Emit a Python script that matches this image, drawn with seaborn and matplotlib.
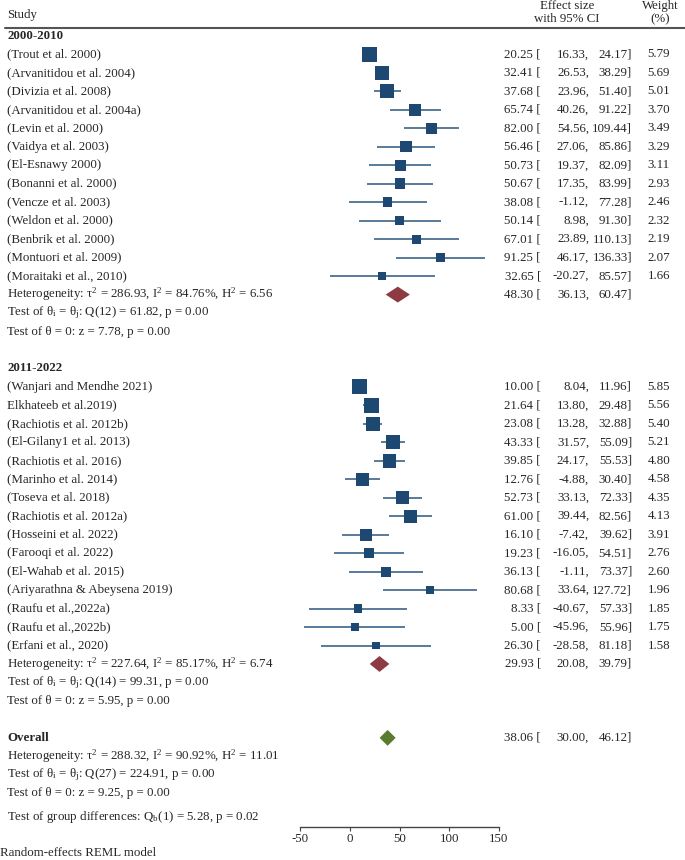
import numpy as np
import pandas as pd
import seaborn as sns
import matplotlib.pyplot as plt
from matplotlib.transforms import blended_transform_factory

# Data
studies1 = ['(Trout et al. 2000)', '(Arvanitidou et al. 2004)', '(Divizia et al. 2008)',
            '(Arvanitidou et al. 2004a)', '(Levin et al. 2000)', '(Vaidya et al. 2003)',
            '(El-Esnawy 2000)', '(Bonanni et al. 2000)', '(Vencze et al. 2003)',
            '(Weldon et al. 2000)', '(Benbrik et al. 2000)', '(Montuori et al. 2009)',
            '(Moraitaki et al., 2010)']
est1 = [20.25, 32.41, 37.68, 65.74, 82.00, 56.46, 50.73, 50.67, 38.08, 50.14, 67.01, 91.25, 32.65]
lo1 = [16.33, 26.53, 23.96, 40.26, 54.56, 27.06, 19.37, 17.35, -1.12, 8.98, 23.89, 46.17, -20.27]
hi1 = [24.17, 38.29, 51.40, 91.22, 109.44, 85.86, 82.09, 83.99, 77.28, 91.30, 110.13, 136.33, 85.57]
w1 = [5.79, 5.69, 5.01, 3.70, 3.49, 3.29, 3.11, 2.93, 2.46, 2.32, 2.19, 2.07, 1.66]

studies2 = ['(Wanjari and Mendhe 2021)', 'Elkhateeb et al.2019)', '(Rachiotis et al. 2012b)',
            '(El-Gilany1 et al. 2013)', '(Rachiotis et al. 2016)', '(Marinho et al. 2014)',
            '(Toseva et al. 2018)', '(Rachiotis et al. 2012a)', '(Hosseini et al. 2022)',
            '(Farooqi et al. 2022)', '(El-Wahab et al. 2015)', '(Ariyarathna & Abeysena 2019)',
            '(Raufu et al.,2022a)', '(Raufu et al.,2022b)', '(Erfani et al., 2020)']
est2 = [10.00, 21.64, 23.08, 43.33, 39.85, 12.76, 52.73, 61.00, 16.10, 19.23, 36.13, 80.68, 8.33, 5.00, 26.30]
lo2 = [8.04, 13.80, 13.28, 31.57, 24.17, -4.88, 33.13, 39.44, -7.42, -16.05, -1.11, 33.64, -40.67, -45.96, -28.58]
hi2 = [11.96, 29.48, 32.88, 55.09, 55.53, 30.40, 72.33, 82.56, 39.62, 54.51, 73.37, 127.72, 57.33, 55.96, 81.18]
w2 = [5.85, 5.56, 5.40, 5.21, 4.80, 4.58, 4.35, 4.13, 3.91, 2.76, 2.60, 1.96, 1.85, 1.75, 1.58]

# pooled estimates: (est, lo, hi)
pooled1 = (48.30, 36.13, 60.47)
pooled2 = (29.93, 20.08, 39.79)
pooled_all = (38.06, 30.00, 46.12)

stats1 = ['Heterogeneity: τ$^\\mathrm{2}$ = 286.93, I$^\\mathrm{2}$ = 84.76%, H$^\\mathrm{2}$ = 6.56',
          'Test of θ$_\\mathrm{i}$ = θ$_\\mathrm{j}$: Q(12) = 61.82, p = 0.00',
          'Test of θ = 0: z = 7.78, p = 0.00']
stats2 = ['Heterogeneity: τ$^\\mathrm{2}$ = 227.64, I$^\\mathrm{2}$ = 85.17%, H$^\\mathrm{2}$ = 6.74',
          'Test of θ$_\\mathrm{i}$ = θ$_\\mathrm{j}$: Q(14) = 99.31, p = 0.00',
          'Test of θ = 0: z = 5.95, p = 0.00']
stats_all = ['Heterogeneity: τ$^\\mathrm{2}$ = 288.32, I$^\\mathrm{2}$ = 90.92%, H$^\\mathrm{2}$ = 11.01',
             'Test of θ$_\\mathrm{i}$ = θ$_\\mathrm{j}$: Q(27) = 224.91, p = 0.00',
             'Test of θ = 0: z = 9.25, p = 0.00']
group_test = 'Test of group differences: Q$_\\mathrm{b}$(1) = 5.28, p = 0.02'
xticks = [-50, 0, 50, 100, 150]

sns.set_style('white')
plt.rcParams['font.family'] = ['Liberation Serif', 'DejaVu Serif']
plt.rcParams['mathtext.fontset'] = 'custom'
plt.rcParams['mathtext.rm'] = 'Liberation Serif'
plt.rcParams['mathtext.it'] = 'Liberation Serif:italic'
plt.rcParams['mathtext.bf'] = 'Liberation Serif:bold'
FS = 9.3
SQ = '#1d4872'
LN = '#3d6489'

W, H = 685, 860
fig = plt.figure(figsize=(W / 100, H / 100), dpi=100)
# plot panel: x from -50 to 150 between px 300 and 499, bottom at px 827
ax = fig.add_axes([300 / W, (H - 827) / H, 199 / W, 827 / H])

# row layout
rows1 = np.arange(1, 14)
rows2 = np.arange(19, 34)
row_h1, row_h2, row_all = 14, 34, 38
step = 18.47
top_row = -36 / step
bot_row = (827 - 36) / step
ax.set_xlim(-50, 150)
ax.set_ylim(bot_row, top_row)

df = pd.DataFrame({
    'est': est1 + est2, 'lo': lo1 + lo2, 'hi': hi1 + hi2, 'w': w1 + w2,
    'row': np.concatenate([rows1, rows2]), 'study': studies1 + studies2,
})

ax.hlines(df['row'], df['lo'], df['hi'], color=LN, lw=1.2, zorder=1)
sns.scatterplot(data=df, x='est', y='row', size='w', sizes=(0, 199), size_norm=(0, 10),
                marker='s', color=SQ, linewidth=0, legend=False, ax=ax, zorder=2)


def diamond(p, row, color):
    e, l, h = p
    hh = 0.43
    ax.fill([l, e, h, e], [row, row - hh, row, row + hh], color=color, lw=0, zorder=3)


diamond(pooled1, row_h1, '#8e3a42')
diamond(pooled2, row_h2, '#8e3a42')
diamond(pooled_all, row_all, '#5a7a2d')

# axis styling
for s in ['top', 'left', 'right']:
    ax.spines[s].set_visible(False)
ax.spines['bottom'].set_color('#444444')
ax.spines['bottom'].set_linewidth(1.0)
ax.set_yticks([])
ax.set_xticks(xticks)
ax.set_xticklabels([str(t) for t in xticks])
ax.tick_params(axis='x', direction='out', length=3, width=0.8, color='#444444',
               labelsize=FS, pad=1.5, bottom=True)
ax.set_xlabel('')
ax.set_ylabel('')

tr = blended_transform_factory(fig.transFigure, ax.transData)


def px(x):
    return x / W


def put(x, row, s, ha='left', bold=False):
    ax.text(px(x), row, s, transform=tr, ha=ha, va='center', fontsize=FS,
            fontweight='bold' if bold else 'normal', clip_on=False)


def ci_text(row, e, l, h, w=None):
    put(541, row, f'{e:.2f} [', ha='right')
    put(589, row, f'{l:.2f},', ha='right')
    put(632, row, f'{h:.2f}]', ha='right')
    if w is not None:
        put(670, row, f'{w:.2f}', ha='right')


# header
put(7, -1.14, 'Study')
put(567, -1.62, 'Effect size', ha='center')
put(567, -0.92, 'with 95% CI', ha='center')
put(660, -1.62, 'Weight', ha='center')
put(660, -0.92, '(%)', ha='center')
ax.plot([px(5), px(685)], [-0.43, -0.43], transform=tr, color='#555555', lw=1.5, clip_on=False)

# groups
put(7, 0, '2000-2010', bold=True)
for r, s, e, l, h, w in zip(rows1, studies1, est1, lo1, hi1, w1):
    put(7, r, s)
    ci_text(r, e, l, h, w)
for i, s in enumerate(stats1):
    put(7, row_h1 + i, s)
ci_text(row_h1, *pooled1)

put(7, 18, '2011-2022', bold=True)
for r, s, e, l, h, w in zip(rows2, studies2, est2, lo2, hi2, w2):
    put(7, r, s)
    ci_text(r, e, l, h, w)
for i, s in enumerate(stats2):
    put(7, row_h2 + i, s)
ci_text(row_h2, *pooled2)

put(7, row_all, 'Overall', bold=True)
ci_text(row_all, *pooled_all)
for i, s in enumerate(stats_all):
    put(7, row_all + 1 + i, s)
put(7, 42.3, group_test)

fig.text(0, 1 - 853 / H, 'Random-effects REML model', ha='left', va='center', fontsize=FS)

fig.savefig('out.png', dpi=100)
